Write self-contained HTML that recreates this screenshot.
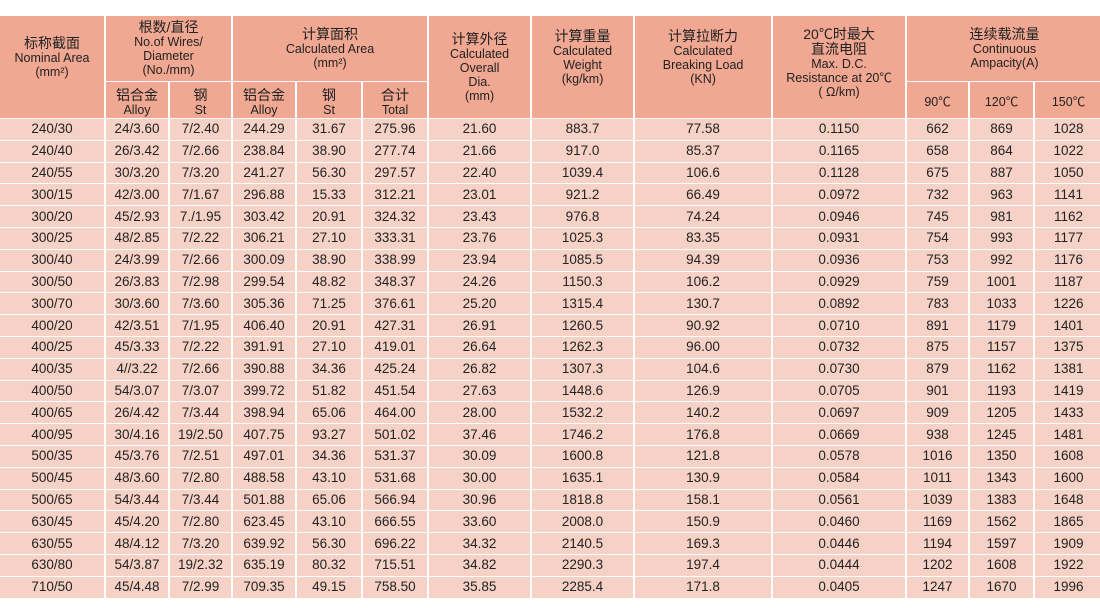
<!DOCTYPE html>
<html><head><meta charset="utf-8"><style>
html,body{margin:0;padding:0;background:#fff;width:1100px;height:612px;overflow:hidden}
table{position:absolute;left:-2px;top:15px;width:1106px;border-collapse:separate;border-spacing:2px 1px;table-layout:fixed;font-family:"Liberation Sans","Noto Sans CJK SC",sans-serif;color:#222}
td{padding:0;text-align:center;vertical-align:middle;overflow:hidden;white-space:nowrap}
thead td{background:#f0a892;font-size:12.5px;line-height:14px;white-space:normal}
thead td b{font-weight:normal;font-size:14px}
thead tr.r1{height:65px}
thead tr.r2{height:36px}
thead tr.r2 td{padding-top:4px}
tbody td{background:#f6d2c6;font-size:13.5px;height:20.8px;line-height:20px}
</style></head><body>
<table>
<colgroup><col style="width:104px"><col style="width:62px"><col style="width:61px"><col style="width:62px"><col style="width:64px"><col style="width:64px"><col style="width:101px"><col style="width:101px"><col style="width:136px"><col style="width:132px"><col style="width:61px"><col style="width:63px"><col style="width:67px"></colgroup>
<thead>
<tr class="r1">
<td rowspan="2" style="padding-bottom:20px"><b>标称截面</b><br>Nominal Area<br>(mm²)</td>
<td colspan="2"><b>根数/直径</b><br>No.of Wires/<br>Diameter<br>(No./mm)</td>
<td colspan="3"><b>计算面积</b><br>Calculated Area<br>(mm²)</td>
<td rowspan="2"><b>计算外径</b><br>Calculated<br>Overall<br>Dia.<br>(mm)</td>
<td rowspan="2" style="padding-bottom:20px"><b>计算重量</b><br>Calculated<br>Weight<br>(kg/km)</td>
<td rowspan="2" style="padding-bottom:20px"><b>计算拉断力</b><br>Calculated<br>Breaking Load<br>(KN)</td>
<td rowspan="2" style="padding-bottom:8px"><b>20℃时最大<br>直流电阻</b><br>Max. D.C.<br>Resistance at 20℃<br>( Ω/km)</td>
<td colspan="3"><b>连续载流量</b><br>Continuous<br>Ampacity(A)</td>
</tr>
<tr class="r2">
<td><b>铝合金</b><br>Alloy</td><td><b>钢</b><br>St</td>
<td><b>铝合金</b><br>Alloy</td><td><b>钢</b><br>St</td><td><b>合计</b><br>Total</td>
<td>90℃</td><td>120℃</td><td>150℃</td>
</tr>
</thead>
<tbody>
<tr><td>240/30</td><td>24/3.60</td><td>7/2.40</td><td>244.29</td><td>31.67</td><td>275.96</td><td>21.60</td><td>883.7</td><td>77.58</td><td>0.1150</td><td>662</td><td>869</td><td>1028</td></tr>
<tr><td>240/40</td><td>26/3.42</td><td>7/2.66</td><td>238.84</td><td>38.90</td><td>277.74</td><td>21.66</td><td>917.0</td><td>85.37</td><td>0.1165</td><td>658</td><td>864</td><td>1022</td></tr>
<tr><td>240/55</td><td>30/3.20</td><td>7/3.20</td><td>241.27</td><td>56.30</td><td>297.57</td><td>22.40</td><td>1039.4</td><td>106.6</td><td>0.1128</td><td>675</td><td>887</td><td>1050</td></tr>
<tr><td>300/15</td><td>42/3.00</td><td>7/1.67</td><td>296.88</td><td>15.33</td><td>312.21</td><td>23.01</td><td>921.2</td><td>66.49</td><td>0.0972</td><td>732</td><td>963</td><td>1141</td></tr>
<tr><td>300/20</td><td>45/2.93</td><td>7./1.95</td><td>303.42</td><td>20.91</td><td>324.32</td><td>23.43</td><td>976.8</td><td>74.24</td><td>0.0946</td><td>745</td><td>981</td><td>1162</td></tr>
<tr><td>300/25</td><td>48/2.85</td><td>7/2.22</td><td>306.21</td><td>27.10</td><td>333.31</td><td>23.76</td><td>1025.3</td><td>83.35</td><td>0.0931</td><td>754</td><td>993</td><td>1177</td></tr>
<tr><td>300/40</td><td>24/3.99</td><td>7/2.66</td><td>300.09</td><td>38.90</td><td>338.99</td><td>23.94</td><td>1085.5</td><td>94.39</td><td>0.0936</td><td>753</td><td>992</td><td>1176</td></tr>
<tr><td>300/50</td><td>26/3.83</td><td>7/2.98</td><td>299.54</td><td>48.82</td><td>348.37</td><td>24.26</td><td>1150.3</td><td>106.2</td><td>0.0929</td><td>759</td><td>1001</td><td>1187</td></tr>
<tr><td>300/70</td><td>30/3.60</td><td>7/3.60</td><td>305.36</td><td>71.25</td><td>376.61</td><td>25.20</td><td>1315.4</td><td>130.7</td><td>0.0892</td><td>783</td><td>1033</td><td>1226</td></tr>
<tr><td>400/20</td><td>42/3.51</td><td>7/1.95</td><td>406.40</td><td>20.91</td><td>427.31</td><td>26.91</td><td>1260.5</td><td>90.92</td><td>0.0710</td><td>891</td><td>1179</td><td>1401</td></tr>
<tr><td>400/25</td><td>45/3.33</td><td>7/2.22</td><td>391.91</td><td>27.10</td><td>419.01</td><td>26.64</td><td>1262.3</td><td>96.00</td><td>0.0732</td><td>875</td><td>1157</td><td>1375</td></tr>
<tr><td>400/35</td><td>4//3.22</td><td>7/2.66</td><td>390.88</td><td>34.36</td><td>425.24</td><td>26.82</td><td>1307.3</td><td>104.6</td><td>0.0730</td><td>879</td><td>1162</td><td>1381</td></tr>
<tr><td>400/50</td><td>54/3.07</td><td>7/3.07</td><td>399.72</td><td>51.82</td><td>451.54</td><td>27.63</td><td>1448.6</td><td>126.9</td><td>0.0705</td><td>901</td><td>1193</td><td>1419</td></tr>
<tr><td>400/65</td><td>26/4.42</td><td>7/3.44</td><td>398.94</td><td>65.06</td><td>464.00</td><td>28.00</td><td>1532.2</td><td>140.2</td><td>0.0697</td><td>909</td><td>1205</td><td>1433</td></tr>
<tr><td>400/95</td><td>30/4.16</td><td>19/2.50</td><td>407.75</td><td>93.27</td><td>501.02</td><td>37.46</td><td>1746.2</td><td>176.8</td><td>0.0669</td><td>938</td><td>1245</td><td>1481</td></tr>
<tr><td>500/35</td><td>45/3.76</td><td>7/2.51</td><td>497.01</td><td>34.36</td><td>531.37</td><td>30.09</td><td>1600.8</td><td>121.8</td><td>0.0578</td><td>1016</td><td>1350</td><td>1608</td></tr>
<tr><td>500/45</td><td>48/3.60</td><td>7/2.80</td><td>488.58</td><td>43.10</td><td>531.68</td><td>30.00</td><td>1635.1</td><td>130.9</td><td>0.0584</td><td>1011</td><td>1343</td><td>1600</td></tr>
<tr><td>500/65</td><td>54/3.44</td><td>7/3.44</td><td>501.88</td><td>65.06</td><td>566.94</td><td>30.96</td><td>1818.8</td><td>158.1</td><td>0.0561</td><td>1039</td><td>1383</td><td>1648</td></tr>
<tr><td>630/45</td><td>45/4.20</td><td>7/2.80</td><td>623.45</td><td>43.10</td><td>666.55</td><td>33.60</td><td>2008.0</td><td>150.9</td><td>0.0460</td><td>1169</td><td>1562</td><td>1865</td></tr>
<tr><td>630/55</td><td>48/4.12</td><td>7/3.20</td><td>639.92</td><td>56.30</td><td>696.22</td><td>34.32</td><td>2140.5</td><td>169.3</td><td>0.0446</td><td>1194</td><td>1597</td><td>1909</td></tr>
<tr><td>630/80</td><td>54/3.87</td><td>19/2.32</td><td>635.19</td><td>80.32</td><td>715.51</td><td>34.82</td><td>2290.3</td><td>197.4</td><td>0.0444</td><td>1202</td><td>1608</td><td>1922</td></tr>
<tr><td>710/50</td><td>45/4.48</td><td>7/2.99</td><td>709.35</td><td>49.15</td><td>758.50</td><td>35.85</td><td>2285.4</td><td>171.8</td><td>0.0405</td><td>1247</td><td>1670</td><td>1996</td></tr>
</tbody>
</table>
</body></html>
